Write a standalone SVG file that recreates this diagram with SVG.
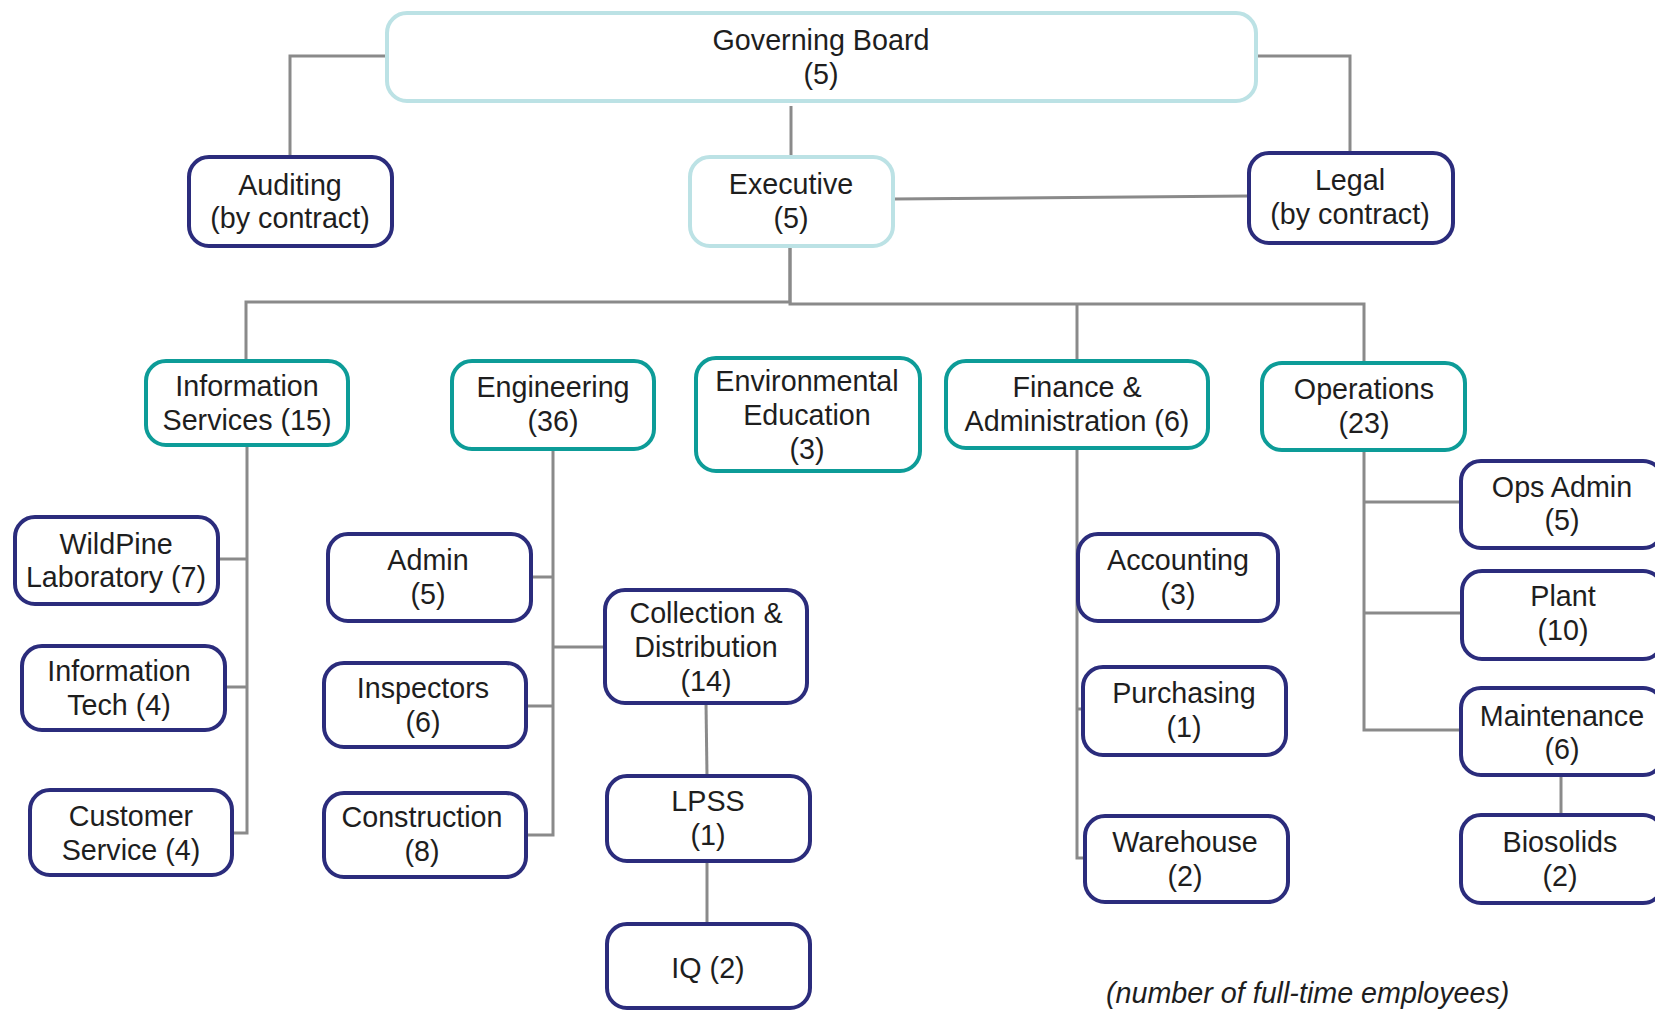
<svg xmlns="http://www.w3.org/2000/svg" width="1655" height="1011" viewBox="0 0 1655 1011">
<style>
.box{fill:#fff;stroke-width:4;rx:20;ry:20}
.lb{stroke:#bce2e5}
.tl{stroke:#0d9c98}
.nv{stroke:#2b2c7c}
text{font-family:"Liberation Sans",Arial,sans-serif;font-size:28.7px;fill:#1e1e1e;text-anchor:middle}
.note{font-style:italic;text-anchor:start}
#connectors path{fill:none;stroke:#8a8a8a;stroke-width:3}
</style>
<rect width="1655" height="1011" fill="#fff"/>
<g id="connectors">
<path d="M387,56 H290 V157"/>
<path d="M1256,56 H1350 V153"/>
<path d="M791,106 V157"/>
<path d="M893,199 L1249,196"/>
<path d="M790,246 V302 H246 V361"/>
<path d="M790,246 V304 H1364 V363"/>
<path d="M1077,304 V361"/>
<path d="M247,445 V833 H232 M218,559 H247 M225,687 H247"/>
<path d="M553,449 V835 H526 M531,577 H553 M526,706 H553 M553,647 H605"/>
<path d="M706,703 L707,776"/>
<path d="M707,861 V924"/>
<path d="M1077,448 V858 H1085 M1077,709 H1083"/>
<path d="M1364,450 V730 H1461 M1364,502 H1461 M1364,613 H1462"/>
<path d="M1561,775 V815"/>
</g>
<g id="governing-board"><rect class="box lb" x="387" y="13" width="869" height="88"/><text x="821" y="50">Governing Board</text><text x="821" y="84">(5)</text></g>
<g id="auditing"><rect class="box nv" x="189" y="157" width="203" height="89"/><text x="290" y="195">Auditing</text><text x="290" y="228">(by contract)</text></g>
<g id="executive"><rect class="box lb" x="690" y="157" width="203" height="89"/><text x="791" y="194">Executive</text><text x="791" y="228">(5)</text></g>
<g id="legal"><rect class="box nv" x="1249" y="153" width="204" height="90"/><text x="1350" y="190">Legal</text><text x="1350" y="224">(by contract)</text></g>
<g id="information-services"><rect class="box tl" x="146" y="361" width="202" height="84"/><text x="247" y="396">Information</text><text x="247" y="430">Services (15)</text></g>
<g id="engineering"><rect class="box tl" x="452" y="361" width="202" height="88"/><text x="553" y="397">Engineering</text><text x="553" y="431">(36)</text></g>
<g id="environmental-education"><rect class="box tl" x="696" y="358" width="224" height="113"/><text x="807" y="391">Environmental</text><text x="807" y="425">Education</text><text x="807" y="459">(3)</text></g>
<g id="finance-administration"><rect class="box tl" x="946" y="361" width="262" height="87"/><text x="1077" y="397">Finance &amp;</text><text x="1077" y="431">Administration (6)</text></g>
<g id="operations"><rect class="box tl" x="1262" y="363" width="203" height="87"/><text x="1364" y="399">Operations</text><text x="1364" y="433">(23)</text></g>
<g id="wildpine-laboratory"><rect class="box nv" x="15" y="517" width="203" height="87"/><text x="116" y="554">WildPine</text><text x="116" y="587">Laboratory (7)</text></g>
<g id="information-tech"><rect class="box nv" x="22" y="646" width="203" height="84"/><text x="119" y="681">Information</text><text x="119" y="715">Tech (4)</text></g>
<g id="customer-service"><rect class="box nv" x="30" y="790" width="202" height="85"/><text x="131" y="826">Customer</text><text x="131" y="860">Service (4)</text></g>
<g id="admin"><rect class="box nv" x="328" y="534" width="203" height="87"/><text x="428" y="570">Admin</text><text x="428" y="604">(5)</text></g>
<g id="inspectors"><rect class="box nv" x="324" y="663" width="202" height="84"/><text x="423" y="698">Inspectors</text><text x="423" y="732">(6)</text></g>
<g id="construction"><rect class="box nv" x="324" y="793" width="202" height="84"/><text x="422" y="827">Construction</text><text x="422" y="861">(8)</text></g>
<g id="collection-distribution"><rect class="box nv" x="605" y="590" width="202" height="113"/><text x="706" y="623">Collection &amp;</text><text x="706" y="657">Distribution</text><text x="706" y="691">(14)</text></g>
<g id="lpss"><rect class="box nv" x="607" y="776" width="203" height="85"/><text x="708" y="811">LPSS</text><text x="708" y="845">(1)</text></g>
<g id="iq"><rect class="box nv" x="607" y="924" width="203" height="84"/><text x="708" y="978">IQ (2)</text></g>
<g id="accounting"><rect class="box nv" x="1078" y="534" width="200" height="87"/><text x="1178" y="570">Accounting</text><text x="1178" y="604">(3)</text></g>
<g id="purchasing"><rect class="box nv" x="1083" y="667" width="203" height="88"/><text x="1184" y="703">Purchasing</text><text x="1184" y="737">(1)</text></g>
<g id="warehouse"><rect class="box nv" x="1085" y="816" width="203" height="86"/><text x="1185" y="852">Warehouse</text><text x="1185" y="886">(2)</text></g>
<g id="ops-admin"><rect class="box nv" x="1461" y="461" width="202" height="87"/><text x="1562" y="497">Ops Admin</text><text x="1562" y="530">(5)</text></g>
<g id="plant"><rect class="box nv" x="1462" y="571" width="201" height="88"/><text x="1563" y="606">Plant</text><text x="1563" y="640">(10)</text></g>
<g id="maintenance"><rect class="box nv" x="1461" y="688" width="202" height="87"/><text x="1562" y="726">Maintenance</text><text x="1562" y="759">(6)</text></g>
<g id="biosolids"><rect class="box nv" x="1461" y="815" width="202" height="88"/><text x="1560" y="852">Biosolids</text><text x="1560" y="886">(2)</text></g>
<text class="note" x="1106" y="1003">(number of full-time employees)</text>
</svg>
